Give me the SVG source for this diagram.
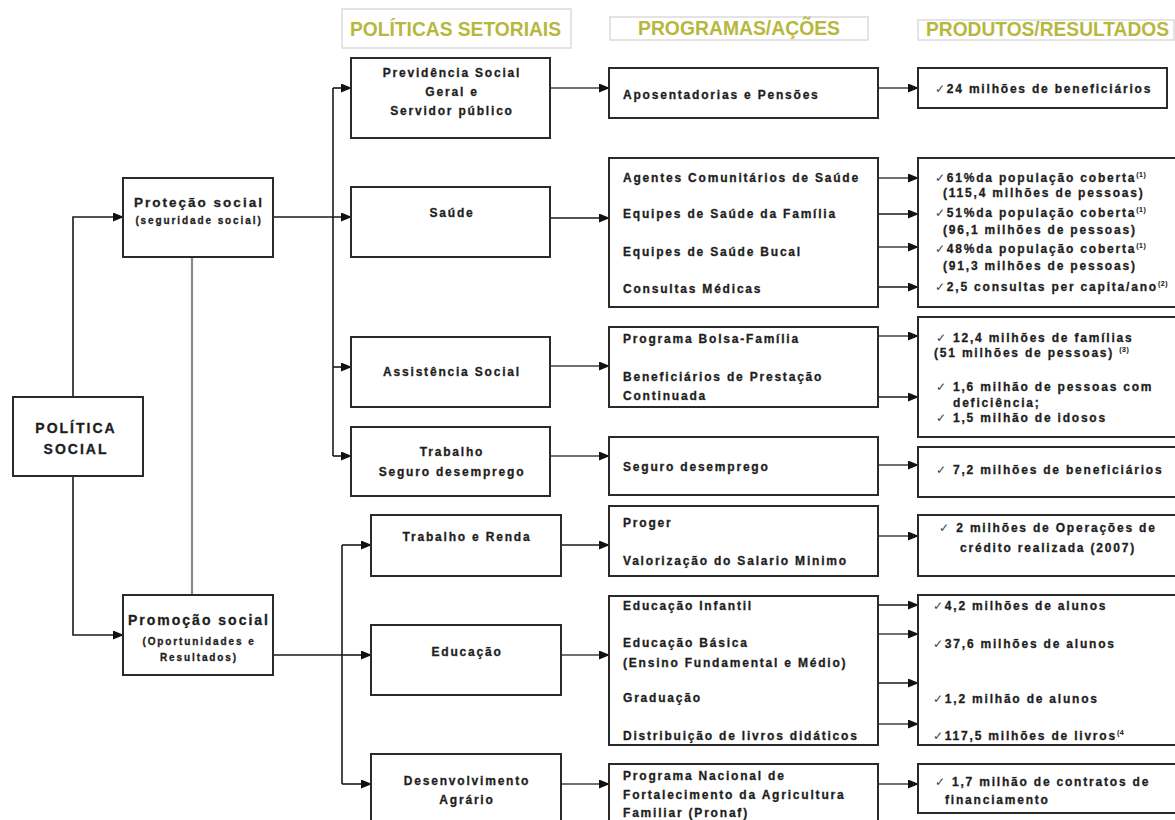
<svg xmlns="http://www.w3.org/2000/svg" width="1175" height="820" viewBox="0 0 1175 820">
<defs>
<style>
.bx{fill:#fff;stroke:#2a2a2a;stroke-width:2}
.hb{fill:#fff;stroke:#dcdcdc;stroke-width:1.5}
.t{font-family:"Liberation Sans",Arial,sans-serif;font-weight:bold;font-size:12px;letter-spacing:1.8px;fill:#1e1e1e;stroke:#1e1e1e;stroke-width:0.3}
.m{text-anchor:middle}
.h{font-family:"Liberation Sans",Arial,sans-serif;font-weight:bold;font-size:19.5px;fill:#b6b83e}
.big{font-size:13.5px;letter-spacing:2px}
.sm{font-size:10px;letter-spacing:1.9px}
.sup{font-size:7px;letter-spacing:0.5px;stroke-width:0.1}
.ck{font-weight:normal;stroke-width:0;fill:#445}
.ln{stroke:#1a1a1a;stroke-width:1.6;fill:none}
.lg{stroke:#707070;stroke-width:1.8;fill:none}
.gr{stroke:#8a8a8a;stroke-width:2.2;fill:none}
</style>
<marker id="ar" markerUnits="userSpaceOnUse" markerWidth="11" markerHeight="9" refX="10" refY="4.5" orient="auto">
<path d="M0,0 L11,4.5 L0,9 z" fill="#111"/>
</marker>
</defs>
<rect width="1175" height="820" fill="#fff"/>

<g id="headers">
<rect class="hb" x="342" y="9" width="229" height="39"/>
<text class="h" x="350" y="36" textLength="211" lengthAdjust="spacingAndGlyphs">POLÍTICAS SETORIAIS</text>
<rect class="hb" x="610" y="17" width="258" height="23"/>
<text class="h" x="638" y="35" textLength="202" lengthAdjust="spacingAndGlyphs">PROGRAMAS/AÇÕES</text>
<rect class="hb" x="918" y="20" width="256" height="20"/>
<text class="h" x="926" y="36" textLength="243" lengthAdjust="spacingAndGlyphs">PRODUTOS/RESULTADOS</text>
</g>

<g id="connectors">
<path class="ln" d="M73,397 V217 H123" marker-end="url(#ar)"/>
<path class="ln" d="M73,476 V635 H123" marker-end="url(#ar)"/>
<path class="gr" d="M192,257 V595"/>
<path class="ln" d="M273,217 H351" marker-end="url(#ar)"/>
<path class="ln" d="M333,88 V456"/>
<path class="ln" d="M333,88 H351" marker-end="url(#ar)"/>
<path class="ln" d="M333,367 H351" marker-end="url(#ar)"/>
<path class="ln" d="M333,456 H351" marker-end="url(#ar)"/>
<path class="ln" d="M273,655 H342"/>
<path class="ln" d="M342,545 V784"/>
<path class="ln" d="M342,545 H371" marker-end="url(#ar)"/>
<path class="ln" d="M342,655 H371" marker-end="url(#ar)"/>
<path class="ln" d="M342,784 H371" marker-end="url(#ar)"/>
<path class="lg" d="M550,88 H609" marker-end="url(#ar)"/>
<path class="ln" d="M550,218 H609" marker-end="url(#ar)"/>
<path class="lg" d="M550,366 H609" marker-end="url(#ar)"/>
<path class="lg" d="M550,456 H609" marker-end="url(#ar)"/>
<path class="ln" d="M561,545 H609" marker-end="url(#ar)"/>
<path class="lg" d="M561,655 H609" marker-end="url(#ar)"/>
<path class="lg" d="M561,784 H609" marker-end="url(#ar)"/>
<path class="lg" d="M878,88 H918" marker-end="url(#ar)"/>
<path class="lg" d="M878,178 H918" marker-end="url(#ar)"/>
<path class="ln" d="M878,214 H918" marker-end="url(#ar)"/>
<path class="lg" d="M878,247 H918" marker-end="url(#ar)"/>
<path class="ln" d="M878,287 H918" marker-end="url(#ar)"/>
<path class="lg" d="M878,336 H918" marker-end="url(#ar)"/>
<path class="ln" d="M878,397 H918" marker-end="url(#ar)"/>
<path class="lg" d="M878,465 H918" marker-end="url(#ar)"/>
<path class="lg" d="M878,536 H918" marker-end="url(#ar)"/>
<path class="ln" d="M878,605 H918" marker-end="url(#ar)"/>
<path class="lg" d="M878,634 H918" marker-end="url(#ar)"/>
<path class="ln" d="M878,683 H918" marker-end="url(#ar)"/>
<path class="lg" d="M878,724 H918" marker-end="url(#ar)"/>
<path class="lg" d="M878,784 H918" marker-end="url(#ar)"/>
</g>

<g id="politica-social">
<rect class="bx" x="13" y="397" width="130" height="79"/>
<text class="t m big" x="76" y="433" style="font-size:14px">POLÍTICA</text>
<text class="t m big" x="76" y="454" style="font-size:14px">SOCIAL</text>
</g>
<g id="protecao-social">
<rect class="bx" x="123" y="178" width="150" height="79"/>
<text class="t m big" x="199" y="207">Proteção social</text>
<text class="t m sm" x="199" y="224">(seguridade social)</text>
</g>
<g id="promocao-social">
<rect class="bx" x="123" y="595" width="150" height="80"/>
<text class="t m big" x="199" y="625" style="font-size:14px">Promoção social</text>
<text class="t m sm" x="199" y="645">(Oportunidades e</text>
<text class="t m sm" x="199" y="661">Resultados)</text>
</g>

<g id="previdencia">
<rect class="bx" x="351" y="58" width="199" height="80"/>
<text class="t m" x="452" y="77">Previdência Social</text>
<text class="t m" x="452" y="96">Geral  e</text>
<text class="t m" x="452" y="115">Servidor público</text>
</g>
<g id="saude">
<rect class="bx" x="351" y="187" width="199" height="70"/>
<text class="t m" x="452" y="217">Saúde</text>
</g>
<g id="assistencia">
<rect class="bx" x="351" y="337" width="199" height="70"/>
<text class="t m" x="452" y="376">Assistência  Social</text>
</g>
<g id="trabalho-seguro">
<rect class="bx" x="351" y="427" width="199" height="69"/>
<text class="t m" x="452" y="456">Trabalho</text>
<text class="t m" x="452" y="476">Seguro desemprego</text>
</g>
<g id="trabalho-renda">
<rect class="bx" x="371" y="515" width="190" height="61"/>
<text class="t m" x="467" y="541">Trabalho e Renda</text>
</g>
<g id="educacao">
<rect class="bx" x="371" y="625" width="190" height="70"/>
<text class="t m" x="467" y="656">Educação</text>
</g>
<g id="desenvolvimento-agrario">
<rect class="bx" x="371" y="754" width="190" height="80"/>
<text class="t m" x="467" y="785">Desenvolvimento</text>
<text class="t m" x="467" y="804">Agrário</text>
</g>

<g id="prog-aposentadorias">
<rect class="bx" x="609" y="68" width="269" height="50"/>
<text class="t" x="623" y="99">Aposentadorias e Pensões</text>
</g>
<g id="prog-saude">
<rect class="bx" x="609" y="158" width="269" height="149"/>
<text class="t" x="623" y="182">Agentes Comunitários de Saúde</text>
<text class="t" x="623" y="218">Equipes de Saúde da Família</text>
<text class="t" x="623" y="256">Equipes de Saúde Bucal</text>
<text class="t" x="623" y="293">Consultas Médicas</text>
</g>
<g id="prog-assistencia">
<rect class="bx" x="609" y="327" width="269" height="80"/>
<text class="t" x="623" y="343">Programa Bolsa-Família</text>
<text class="t" x="623" y="381">Beneficiários de Prestação</text>
<text class="t" x="623" y="400">Continuada</text>
</g>
<g id="prog-seguro">
<rect class="bx" x="609" y="437" width="269" height="58"/>
<text class="t" x="623" y="471">Seguro desemprego</text>
</g>
<g id="prog-proger">
<rect class="bx" x="609" y="506" width="269" height="70"/>
<text class="t" x="623" y="527">Proger</text>
<text class="t" x="623" y="565">Valorização do  Salario Minimo</text>
</g>
<g id="prog-educacao">
<rect class="bx" x="609" y="596" width="269" height="149"/>
<text class="t" x="623" y="610">Educação Infantil</text>
<text class="t" x="623" y="647">Educação Básica</text>
<text class="t" x="623" y="667">(Ensino Fundamental e Médio)</text>
<text class="t" x="623" y="702">Graduação</text>
<text class="t" x="623" y="740">Distribuição de livros didáticos</text>
</g>
<g id="prog-pronaf">
<rect class="bx" x="609" y="764" width="269" height="70"/>
<text class="t" x="623" y="780">Programa Nacional de</text>
<text class="t" x="623" y="799">Fortalecimento da Agricultura</text>
<text class="t" x="623" y="817">Familiar (Pronaf)</text>
</g>

<g id="res-previdencia">
<rect class="bx" x="918" y="68" width="249" height="40"/>
<text class="t" x="935" y="93"><tspan class="ck">✓</tspan>24 milhões de beneficiários</text>
</g>
<g id="res-saude">
<rect class="bx" x="918" y="158" width="258" height="149"/>
<text class="t" x="935" y="182"><tspan class="ck">✓</tspan>61%da população coberta<tspan class="sup" dy="-5">(1)</tspan></text>
<text class="t" x="943" y="197">(115,4 milhões de pessoas)</text>
<text class="t" x="935" y="217"><tspan class="ck">✓</tspan>51%da população coberta<tspan class="sup" dy="-5">(1)</tspan></text>
<text class="t" x="943" y="234">(96,1 milhões de pessoas)</text>
<text class="t" x="935" y="253"><tspan class="ck">✓</tspan>48%da população coberta<tspan class="sup" dy="-5">(1)</tspan></text>
<text class="t" x="943" y="270">(91,3 milhões de pessoas)</text>
<text class="t" x="935" y="291"><tspan class="ck">✓</tspan>2,5 consultas per capita/ano<tspan class="sup" dy="-5">(2)</tspan></text>
</g>
<g id="res-assistencia">
<rect class="bx" x="918" y="317" width="258" height="120"/>
<text class="t" x="936" y="342"><tspan class="ck">✓</tspan> 12,4 milhões de famílias</text>
<text class="t" x="934" y="357">(51 milhões de pessoas) <tspan class="sup" dy="-5">(3)</tspan></text>
<text class="t" x="936" y="391"><tspan class="ck">✓</tspan> 1,6 milhão de pessoas com</text>
<text class="t" x="953" y="407">deficiência;</text>
<text class="t" x="936" y="422"><tspan class="ck">✓</tspan> 1,5 milhão de idosos</text>
</g>
<g id="res-seguro">
<rect class="bx" x="918" y="447" width="258" height="50"/>
<text class="t" x="936" y="474"><tspan class="ck">✓</tspan> 7,2 milhões de beneficiários</text>
</g>
<g id="res-proger">
<rect class="bx" x="918" y="515" width="258" height="61"/>
<text class="t m" x="1048" y="532"><tspan class="ck">✓</tspan> 2 milhões de Operações de</text>
<text class="t m" x="1048" y="552">crédito realizada (2007)</text>
</g>
<g id="res-educacao">
<rect class="bx" x="918" y="595" width="258" height="150"/>
<text class="t" x="933" y="610"><tspan class="ck">✓</tspan>4,2 milhões de alunos</text>
<text class="t" x="933" y="648"><tspan class="ck">✓</tspan>37,6 milhões de alunos</text>
<text class="t" x="933" y="703"><tspan class="ck">✓</tspan>1,2 milhão de alunos</text>
<text class="t" x="933" y="740"><tspan class="ck">✓</tspan>117,5 milhões de livros<tspan class="sup" dy="-5">(4</tspan></text>
</g>
<g id="res-pronaf">
<rect class="bx" x="918" y="764" width="258" height="49"/>
<text class="t" x="935" y="786"><tspan class="ck">✓</tspan> 1,7 milhão de contratos de</text>
<text class="t" x="945" y="804">financiamento</text>
</g>
</svg>
